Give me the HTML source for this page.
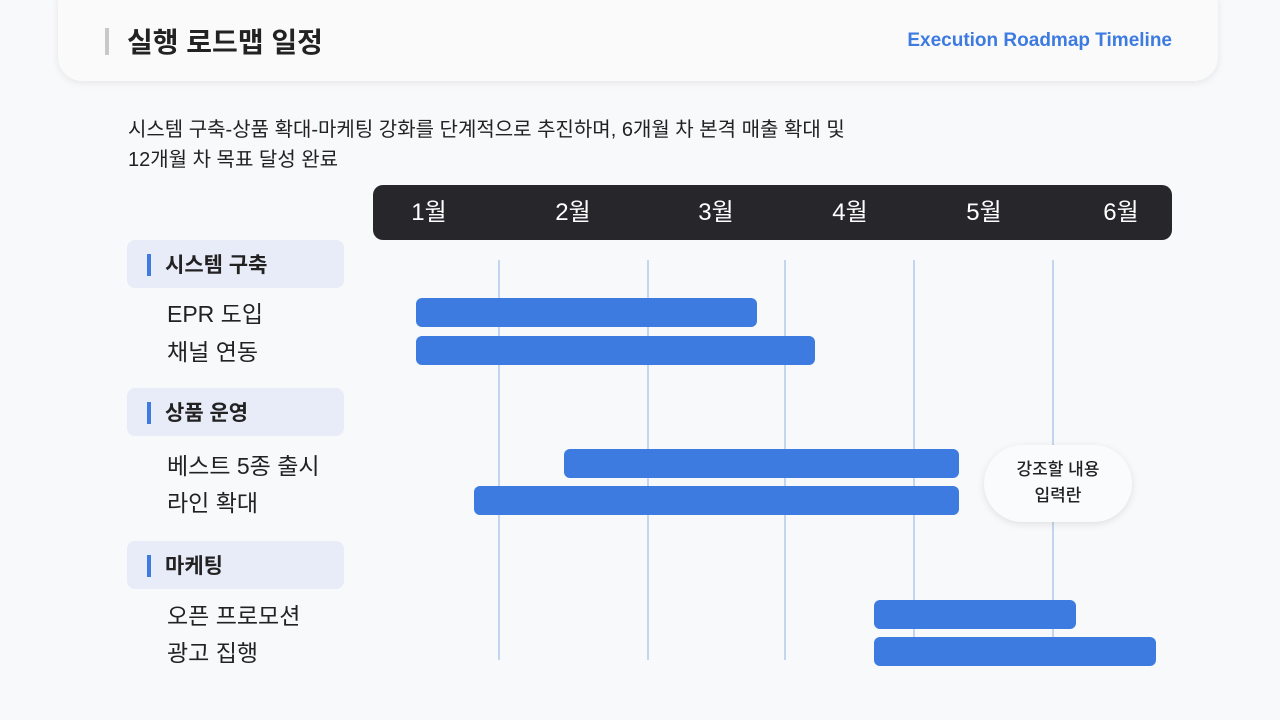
<!DOCTYPE html>
<html><head><meta charset="utf-8"><style>
*{margin:0;padding:0;box-sizing:border-box}
body{width:1280px;height:720px;background:#f8f9fb;font-family:"Liberation Sans","Noto Sans CJK KR",sans-serif;position:relative;overflow:hidden;color:#222}
.abs{position:absolute}
.hdr{left:58px;top:-20px;width:1160px;height:101px;background:#fafafa;border-radius:24px;box-shadow:0 2px 8px rgba(0,0,0,.08)}
.bar{background:#3d7be0;border-radius:6px;height:29px}
.grid{width:2px;background:#c4d6ee;top:260px;height:400px}
.cat{left:127px;width:217px;height:48px;background:#e8ecf8;border-radius:8px;font-size:21px;font-weight:bold;line-height:52px;padding-left:38px;color:#222}
.cat:before{content:"";position:absolute;left:20px;top:14px;width:4px;height:22px;background:#3d7be0}
.item{left:167px;font-size:23px;color:#222}
.m{top:185px;font-size:24px;color:#fff;line-height:55px;transform:translateX(-50%)}
</style></head><body>
<div class="abs hdr"></div>
<div class="abs" style="left:105px;top:28px;width:4px;height:27px;background:#c8c8c8"></div>
<div class="abs" style="left:127px;top:21px;font-size:28px;font-weight:bold;color:#222">실행 로드맵 일정</div>
<div class="abs" style="right:108px;top:30px;font-size:19px;font-weight:bold;color:#3d7be0">Execution Roadmap Timeline</div>
<div class="abs" style="left:128px;top:115px;font-size:20px;line-height:30px;color:#222">시스템 구축-상품 확대-마케팅 강화를 단계적으로 추진하며, 6개월 차 본격 매출 확대 및<br>12개월 차 목표 달성 완료</div>
<div class="abs" style="left:373px;top:185px;width:799px;height:55px;background:#27272b;border-radius:10px"></div>
<div class="abs m" style="left:429px">1월</div>
<div class="abs m" style="left:573px">2월</div>
<div class="abs m" style="left:716px">3월</div>
<div class="abs m" style="left:850px">4월</div>
<div class="abs m" style="left:984px">5월</div>
<div class="abs m" style="left:1121px">6월</div>
<div class="abs grid" style="left:498px"></div>
<div class="abs grid" style="left:647px"></div>
<div class="abs grid" style="left:784px"></div>
<div class="abs grid" style="left:913px"></div>
<div class="abs grid" style="left:1052px"></div>
<div class="abs cat" style="top:240px">시스템 구축</div>
<div class="abs cat" style="top:388px">상품 운영</div>
<div class="abs cat" style="top:541px">마케팅</div>
<div class="abs item" style="top:295px">EPR 도입</div>
<div class="abs item" style="top:333px">채널 연동</div>
<div class="abs item" style="top:447px">베스트 5종 출시</div>
<div class="abs item" style="top:484px">라인 확대</div>
<div class="abs item" style="top:597px">오픈 프로모션</div>
<div class="abs item" style="top:634px">광고 집행</div>
<div class="abs bar" style="left:416px;top:298px;width:341px"></div>
<div class="abs bar" style="left:416px;top:336px;width:399px"></div>
<div class="abs bar" style="left:564px;top:449px;width:395px"></div>
<div class="abs bar" style="left:474px;top:486px;width:485px"></div>
<div class="abs bar" style="left:874px;top:600px;width:202px"></div>
<div class="abs bar" style="left:874px;top:637px;width:282px"></div>
<div class="abs" style="left:984px;top:445px;width:148px;height:77px;border-radius:39px;background:#fafbfd;box-shadow:0 2px 8px rgba(0,0,0,.1);text-align:center;font-size:17px;font-weight:500;line-height:26px;padding-top:12px;color:#222">강조할 내용<br>입력란</div>
</body></html>
